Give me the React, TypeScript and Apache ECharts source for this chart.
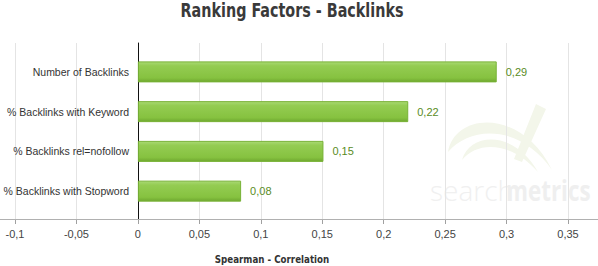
import React, { useEffect, useRef } from "react";
import * as echarts from "echarts";

const categories = [
  "Number of Backlinks",
  "% Backlinks with Keyword",
  "% Backlinks rel=nofollow",
  "% Backlinks with Stopword",
];
const values = [0.292, 0.22, 0.151, 0.084];
const valueLabels = ["0,29", "0,22", "0,15", "0,08"];
const axisMin = -0.1;
const axisMax = 0.35;
const axisStep = 0.05;

const fmt = (v: number) => String(Math.round(v * 100) / 100).replace(".", ",");

const swooshPath =
  "M448,152 C455,112 522,108 552,170 C522,126 472,124 448,152 Z " +
  "M462,160 C470,132 515,130 538,172 C512,142 478,140 462,160 Z " +
  "M536,104 L546,109 L522,162 L514,159 Z";

echarts.graphic.registerShape(
  "smSwoosh",
  echarts.graphic.extendPath(swooshPath, {}) as any
);

export default function App() {
  const ref = useRef<HTMLDivElement>(null);
  useEffect(() => {
    document.body.style.margin = "0";
    const chart = echarts.init(ref.current!, null, { renderer: "svg" });
    chart.setOption({
      animation: false,
      backgroundColor: "#ffffff",
      graphic: [
        {
          type: "text",
          x: 292,
          y: 11,
          scaleX: 0.84,
          style: {
            text: "Ranking Factors - Backlinks",
            fontFamily: "'DejaVu Sans Condensed', sans-serif",
            fontWeight: "bold",
            fontSize: 19,
            fill: "#3a3a3a",
            align: "center",
            verticalAlign: "middle",
          },
        },
        {
          type: "smSwoosh",
          x: 0,
          y: 0,
          scaleX: 1,
          scaleY: 1,
          z: -10,
          silent: true,
          style: { fill: "#f3f6ea" },
        },
        {
          type: "text",
          x: 430,
          y: 176,
          z: -10,
          silent: true,
          style: {
            text: "search",
            fontFamily: "'Open Sans', sans-serif",
            fontWeight: 300,
            fontSize: 28,
            fill: "#f0f0f0",
          },
        },
        {
          type: "text",
          x: 506,
          y: 176,
          scaleX: 0.8,
          z: -10,
          silent: true,
          style: {
            text: "metrics",
            fontFamily: "'Open Sans', sans-serif",
            fontWeight: "bold",
            fontSize: 28,
            fill: "#efefef",
          },
        },
        {
          type: "line",
          z: 5,
          shape: { x1: 0, y1: 219.5, x2: 598, y2: 219.5 },
          style: { stroke: "#b0b0b0", lineWidth: 1 },
        },
        {
          type: "text",
          x: 272,
          y: 259,
          scaleX: 0.88,
          style: {
            text: "Spearman - Correlation",
            fontFamily: "'DejaVu Sans Condensed', sans-serif",
            fontWeight: "bold",
            fontSize: 11,
            fill: "#333333",
            align: "center",
            verticalAlign: "middle",
          },
        },
      ],
      grid: [
        { left: 15, right: 30, top: 43, bottom: 47, outerBoundsMode: "none", containLabel: false },
        { left: 15, right: 30, top: 52, bottom: 55, outerBoundsMode: "none", containLabel: false },
      ],
      xAxis: [
        {
          type: "value",
          gridIndex: 0,
          min: axisMin,
          max: axisMax,
          interval: axisStep,
          axisLine: { show: false },
          axisTick: { show: true, length: 5, lineStyle: { color: "#a0a0a0" } },
          axisLabel: {
            formatter: (v: number) => fmt(v),
            color: "#444444",
            fontFamily: "'Liberation Sans', sans-serif",
            fontSize: 11,
            margin: 9,
          },
          splitLine: { show: true, lineStyle: { color: "#e4e4e4" } },
        },
        {
          type: "value",
          gridIndex: 1,
          min: axisMin,
          max: axisMax,
          interval: axisStep,
          show: false,
          splitLine: { show: false },
        },
      ],
      yAxis: [
        {
          type: "value",
          gridIndex: 0,
          min: 0,
          max: 1,
          offset: -123,
          axisLine: { show: true, onZero: false, lineStyle: { color: "#111111" } },
          axisTick: { show: false },
          axisLabel: { show: false },
          splitLine: { show: false },
        },
        {
          type: "category",
          gridIndex: 1,
          data: categories,
          inverse: true,
          offset: -123,
          axisLine: { show: false, onZero: false },
          axisTick: { show: false },
          axisLabel: {
            color: "#333333",
            fontFamily: "'Liberation Sans', sans-serif",
            fontSize: 10.5,
            margin: 9,
          },
          splitLine: { show: false },
        },
      ],
      series: [
        {
          type: "bar",
          xAxisIndex: 1,
          yAxisIndex: 1,
          data: values,
          barWidth: 21,
          itemStyle: {
            color: new echarts.graphic.LinearGradient(0, 0, 0, 1, [
              { offset: 0, color: "#a9d973" },
              { offset: 0.2, color: "#94cc52" },
              { offset: 0.8, color: "#86c240" },
              { offset: 1, color: "#6fa830" },
            ]),
            borderColor: "#78b236",
            borderWidth: 1,
          },
          label: {
            show: true,
            position: "right",
            distance: 9,
            formatter: (p: any) => valueLabels[p.dataIndex],
            color: "#5a8c1e",
            fontFamily: "'Liberation Sans', sans-serif",
            fontSize: 11,
          },
        },
      ],
    });
    return () => chart.dispose();
  }, []);
  return <div ref={ref} style={{ width: 598, height: 266 }} />;
}
